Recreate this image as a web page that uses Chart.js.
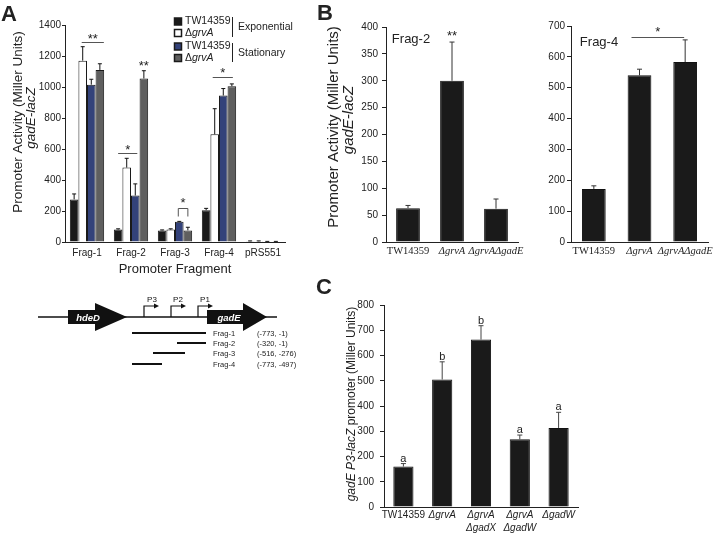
<!DOCTYPE html>
<html>
<head>
<meta charset="utf-8">
<script src="https://cdn.jsdelivr.net/npm/chart.js@4.4.1/dist/chart.umd.min.js"></script>
<style>
  body { margin: 0; background: #fff; width: 720px; height: 533px; position: relative; overflow: hidden; }
  canvas, svg { position: absolute; }
  svg { will-change: transform; }
</style>
</head>
<body>
<canvas id="chartA" width="300" height="282" style="left:0;top:0"></canvas>
<canvas id="chartB1" width="235" height="262" style="left:300px;top:0"></canvas>
<canvas id="chartB2" width="192" height="262" style="left:528px;top:0"></canvas>
<canvas id="chartC" width="300" height="263" style="left:300px;top:270px"></canvas>

<svg style="left:0;top:285px" width="300" height="95" viewBox="0 285 300 95" font-family="Liberation Sans, Arial, sans-serif" fill="#111">
  <line x1="38" y1="317" x2="277" y2="317" stroke="#111" stroke-width="1.5"/>
  <polygon points="68,310 95,310 95,303 127,317 95,331 95,324 68,324"/>
  <text x="88" y="317.5" fill="#fff" font-size="9.5" font-weight="bold" font-style="italic" text-anchor="middle" dominant-baseline="central">hdeD</text>
  <polygon points="207,310 243,310 243,303 267,317 243,331 243,324 207,324"/>
  <text x="229" y="317.5" fill="#fff" font-size="9.5" font-weight="bold" font-style="italic" text-anchor="middle" dominant-baseline="central">gadE</text>

  <path d="M144,317V306H154" stroke="#111" fill="none" stroke-width="1.2"/>
  <polygon points="154,303.5 159,306 154,308.5"/>
  <text x="152" y="299.5" font-size="8" text-anchor="middle" dominant-baseline="central">P3</text>
  <path d="M171,317V306H181" stroke="#111" fill="none" stroke-width="1.2"/>
  <polygon points="181,303.5 186,306 181,308.5"/>
  <text x="178" y="299.5" font-size="8" text-anchor="middle" dominant-baseline="central">P2</text>
  <path d="M198,317V306H208" stroke="#111" fill="none" stroke-width="1.2"/>
  <polygon points="208,303.5 213,306 208,308.5"/>
  <text x="205" y="299.5" font-size="8" text-anchor="middle" dominant-baseline="central">P1</text>

  <line x1="132" y1="333" x2="206" y2="333" stroke="#111" stroke-width="2"/>
  <line x1="177" y1="343" x2="206" y2="343" stroke="#111" stroke-width="2"/>
  <line x1="153" y1="353" x2="185" y2="353" stroke="#111" stroke-width="2"/>
  <line x1="132" y1="364" x2="162" y2="364" stroke="#111" stroke-width="2"/>
  <g font-size="7.5" dominant-baseline="central" fill="#222">
    <text x="213" y="333">Frag-1</text><text x="257" y="333">(-773, -1)</text>
    <text x="213" y="343">Frag-2</text><text x="257" y="343">(-320, -1)</text>
    <text x="213" y="353">Frag-3</text><text x="257" y="353">(-516, -276)</text>
    <text x="213" y="364">Frag-4</text><text x="257" y="364">(-773, -497)</text>
  </g>
</svg>

<script>
// ---- data ----
var fragLabels = ['Frag-1', 'Frag-2', 'Frag-3', 'Frag-4', 'pRS551'];
var strainNames = ['TW14359', 'ΔgrvA', 'TW14359', 'ΔgrvA'];
var phaseNames = ['Exponential', 'Stationary'];

var expWT = [275, 80, 75, 205, 5];
var expWTErr = [35, 5, 3, 12, 2];
var expGrvA = [1170, 480, 80, 695, 5];
var expGrvAErr = [90, 60, 5, 165, 2];
var statWT = [1015, 300, 130, 945, 3];
var statWTErr = [35, 75, 3, 45, 1];
var statGrvA = [1110, 1055, 75, 1005, 3];
var statGrvAErr = [40, 50, 20, 15, 1];

var bLabels = ['TW14359', 'ΔgrvA', 'ΔgrvAΔgadE'];
var frag2Vals = [63, 300, 62];
var frag2Err = [5, 72, 18];
var frag4Vals = [172, 540, 583];
var frag4Err = [10, 20, 72];

var cLabels = ['TW14359', 'ΔgrvA', ['ΔgrvA', 'ΔgadX'], ['ΔgrvA', 'ΔgadW'], 'ΔgadW'];
var p3Vals = [160, 505, 663, 268, 313];
var p3Err = [12, 70, 55, 17, 62];
var p3Groups = ['a', 'b', 'b', 'a', 'a'];

var SANS = "'Liberation Sans', Arial, sans-serif";
var SERIF = "'Liberation Serif', 'Times New Roman', serif";
Chart.defaults.font.family = SANS;
Chart.defaults.color = '#222';

// draw a piece of text made of normal / italic runs
function drawRuns(ctx, runs, x, y, o) {
  o = o || {};
  var size = o.size || 12, fam = o.family || SANS, weight = o.weight || 'normal';
  ctx.save();
  ctx.translate(x, y);
  if (o.rot) ctx.rotate(o.rot);
  var fonts = runs.map(function(r) { return (r.i ? 'italic ' : '') + weight + ' ' + size + 'px ' + fam; });
  var total = 0;
  var widths = runs.map(function(r, k) { ctx.font = fonts[k]; var w = ctx.measureText(r.t).width; total += w; return w; });
  var cx = o.align == 'left' ? 0 : -total / 2;
  ctx.textAlign = 'left';
  ctx.textBaseline = 'middle';
  ctx.fillStyle = '#222';
  runs.forEach(function(r, k) { ctx.font = fonts[k]; ctx.fillText(r.t, cx, 0); cx += widths[k]; });
  ctx.restore();
}

function strainRuns(name) {
  if (name.charAt(0) == 'Δ') return [{t: 'Δ'}, {t: name.slice(1), i: true}];
  return [{t: name}];
}

var errorBars = {
  id: 'errorBars',
  afterDatasetsDraw: function(chart, args, opts) {
    var ctx = chart.ctx, y = chart.scales.y;
    chart.data.datasets.forEach(function(ds, di) {
      if (!ds.errors) return;
      chart.getDatasetMeta(di).data.forEach(function(bar, i) {
        var top = y.getPixelForValue(ds.data[i] + ds.errors[i]);
        ctx.save();
        ctx.strokeStyle = opts.color || '#222';
        ctx.lineWidth = 1;
        ctx.beginPath();
        ctx.moveTo(bar.x, bar.y);
        ctx.lineTo(bar.x, top);
        ctx.moveTo(bar.x - opts.cap, top);
        ctx.lineTo(bar.x + opts.cap, top);
        ctx.stroke();
        ctx.restore();
      });
    });
  }
};

// significance lines, brackets, stars and letters
var marks = {
  id: 'marks',
  afterDatasetsDraw: function(chart, args, opts) {
    var ctx = chart.ctx, y = chart.scales.y;
    var bx = function(p) { return chart.getDatasetMeta(p[0]).data[p[1]].x + p[2]; };
    (opts.items || []).forEach(function(m) {
      ctx.save();
      ctx.strokeStyle = '#555';
      ctx.lineWidth = 1;
      var x1, x2, ly;
      if (m.from) {
        x1 = bx(m.from); x2 = bx(m.to);
        ly = Math.round(y.getPixelForValue(m.v)) + 0.5;
        ctx.beginPath();
        if (m.leg) {
          ctx.moveTo(x1, ly + m.leg); ctx.lineTo(x1, ly); ctx.lineTo(x2, ly); ctx.lineTo(x2, ly + m.leg);
        } else {
          ctx.moveTo(x1, ly); ctx.lineTo(x2, ly);
        }
        ctx.stroke();
      } else {
        x1 = x2 = bx(m.at);
      }
      var size = m.size || 13;
      ctx.font = size + 'px ' + SANS;
      ctx.fillStyle = '#222';
      ctx.textAlign = 'center';
      ctx.textBaseline = 'alphabetic';
      ctx.fillText(m.t, (x1 + x2) / 2, y.getPixelForValue(m.tv) + size * 0.57);
      ctx.restore();
    });
    (opts.letters || []).forEach(function(l, i) {
      var ds = chart.data.datasets[0];
      var bar = chart.getDatasetMeta(0).data[i];
      ctx.save();
      ctx.font = '11px ' + SANS;
      ctx.fillStyle = '#222';
      ctx.textAlign = 'center';
      ctx.textBaseline = 'alphabetic';
      ctx.fillText(l, bar.x, y.getPixelForValue(ds.data[i] + ds.errors[i]) - 2);
      ctx.restore();
    });
  }
};

var texts = {
  id: 'texts',
  afterDraw: function(chart, args, opts) {
    (opts.items || []).forEach(function(it) {
      drawRuns(chart.ctx, it.runs, it.x, it.y, it);
    });
  }
};

// legend of panel A with the phase brackets
var legendA = {
  id: 'legendA',
  afterDraw: function(chart) {
    var ctx = chart.ctx;
    var rows = [21.5, 33, 46.5, 58];
    chart.data.datasets.forEach(function(ds, i) {
      ctx.save();
      ctx.fillStyle = ds.backgroundColor;
      ctx.strokeStyle = '#1a1a1a';
      ctx.lineWidth = 1.5;
      ctx.fillRect(174.5, rows[i] - 3.5, 7, 7);
      ctx.strokeRect(174.5, rows[i] - 3.5, 7, 7);
      ctx.restore();
      drawRuns(ctx, strainRuns(ds.label), 185, rows[i], {size: 10.5, align: 'left'});
    });
    ctx.save();
    ctx.strokeStyle = '#222';
    ctx.lineWidth = 1;
    ctx.beginPath();
    ctx.moveTo(232.5, 17); ctx.lineTo(232.5, 37);
    ctx.moveTo(232.5, 43); ctx.lineTo(232.5, 62);
    ctx.stroke();
    ctx.restore();
    drawRuns(ctx, [{t: phaseNames[0]}], 238, 27, {size: 10.5, align: 'left'});
    drawRuns(ctx, [{t: phaseNames[1]}], 238, 53, {size: 10.5, align: 'left'});
  }
};

function yAxis(max, step, tickLen, pad, size, width) {
  return {
    min: 0, max: max,
    ticks: {stepSize: step, padding: pad, color: '#222', font: {size: size},
      callback: function(v) { return String(v); }},
    grid: {drawOnChartArea: false, drawTicks: true, tickLength: tickLen, color: '#222'},
    border: {display: true, color: '#222', width: 1},
    afterFit: function(s) { s.width = width; }
  };
}

function xAxis(height, pad, font) {
  return {
    ticks: {padding: pad, color: '#222', font: font, maxRotation: 0, autoSkip: false},
    grid: {display: false, drawTicks: false},
    border: {display: true, color: '#222', width: 1},
    afterFit: function(s) { s.height = height; }
  };
}

var common = {
  responsive: false,
  animation: false,
  devicePixelRatio: 1
};

// ---- panel A ----
var xA = xAxis(40, 5, {size: 10});
xA.title = {display: true, text: 'Promoter Fragment', color: '#222', font: {size: 13}, padding: {top: 0, bottom: 5}};

new Chart(document.getElementById('chartA'), {
  type: 'bar',
  data: {
    labels: fragLabels,
    datasets: [
      {label: strainNames[0], data: expWT, errors: expWTErr, backgroundColor: '#1a1a1a'},
      {label: strainNames[1], data: expGrvA, errors: expGrvAErr, backgroundColor: '#ffffff'},
      {label: strainNames[2], data: statWT, errors: statWTErr, backgroundColor: '#33427a'},
      {label: strainNames[3], data: statGrvA, errors: statGrvAErr, backgroundColor: '#5f5f5f'}
    ]
  },
  options: Object.assign({}, common, {
    layout: {padding: {left: 25, top: 25, right: 15, bottom: 0}},
    datasets: {bar: {categoryPercentage: 0.78, barPercentage: 1, borderWidth: 1, borderColor: '#1a1a1a'}},
    scales: {x: xA, y: yAxis(1400, 200, 3, 1, 10, 40)},
    plugins: {
      legend: {display: false},
      tooltip: {enabled: false},
      errorBars: {cap: 2, color: '#111'},
      marks: {items: [
        {from: [1, 0, -1], to: [3, 0, 4], v: 1290, t: '**', tv: 1330},
        {from: [0, 1, 0], to: [2, 1, 2], v: 574, t: '*', tv: 613},
        {at: [3, 1, 0], t: '**', tv: 1155},
        {from: [2, 2, -1], to: [3, 2, 0], v: 219, leg: 8, t: '*', tv: 271},
        {from: [1, 3, -2], to: [3, 3, 1], v: 1065, t: '*', tv: 1110}
      ]},
      texts: {items: [
        {runs: [{t: 'A'}], x: 9, y: 15, size: 22, weight: 'bold'},
        {runs: [{t: 'Promoter Activity (Miller Units)'}], x: 18, y: 122, rot: -Math.PI / 2, size: 13.5},
        {runs: [{t: 'gadE-lacZ', i: true}], x: 31, y: 118, rot: -Math.PI / 2, size: 13.5}
      ]}
    }
  }),
  plugins: [errorBars, marks, texts, legendA]
});

// ---- panel B ----
var serifTicks = function(ctx) {
  return {family: SERIF, size: 10.5, style: ctx.index == 0 ? 'normal' : 'italic'};
};

var xB1 = xAxis(20, 3, serifTicks);
new Chart(document.getElementById('chartB1'), {
  type: 'bar',
  data: {
    labels: bLabels,
    datasets: [{label: 'Frag-2', data: frag2Vals, errors: frag2Err, backgroundColor: '#1a1a1a'}]
  },
  options: Object.assign({}, common, {
    layout: {padding: {left: 40, top: 27, right: 17, bottom: 0}},
    datasets: {bar: {categoryPercentage: 1, barPercentage: 0.54, borderWidth: 1, borderColor: '#111'}},
    scales: {x: xB1, y: yAxis(400, 50, 4, 4, 10, 46)},
    plugins: {
      legend: {display: false},
      tooltip: {enabled: false},
      errorBars: {cap: 2.5, color: '#333'},
      marks: {items: [{at: [0, 1, 0], t: '**', tv: 389}]},
      texts: {items: [
        {runs: [{t: 'B'}], x: 25, y: 14, size: 22, weight: 'bold'},
        {runs: [{t: 'Promoter Activity (Miller Units)'}], x: 34, y: 127, rot: -Math.PI / 2, size: 15},
        {runs: [{t: 'gadE-lacZ', i: true}], x: 49, y: 120, rot: -Math.PI / 2, size: 15},
        {runs: [{t: 'Frag-2'}], x: 111, y: 39, size: 13}
      ]}
    }
  }),
  plugins: [errorBars, marks, texts]
});

var xB2 = xAxis(20, 3, serifTicks);
new Chart(document.getElementById('chartB2'), {
  type: 'bar',
  data: {
    labels: bLabels,
    datasets: [{label: 'Frag-4', data: frag4Vals, errors: frag4Err, backgroundColor: '#1a1a1a'}]
  },
  options: Object.assign({}, common, {
    layout: {padding: {left: 3, top: 26, right: 12, bottom: 0}},
    datasets: {bar: {categoryPercentage: 1, barPercentage: 0.52, borderWidth: 1, borderColor: '#111'}},
    scales: {x: xB2, y: yAxis(700, 100, 4, 2, 10, 40)},
    plugins: {
      legend: {display: false},
      tooltip: {enabled: false},
      errorBars: {cap: 2.5, color: '#333'},
      marks: {items: [{from: [0, 1, -8], to: [0, 2, -1], v: 664, t: '*', tv: 690}]},
      texts: {items: [
        {runs: [{t: 'Frag-4'}], x: 71, y: 42, size: 13}
      ]}
    }
  }),
  plugins: [errorBars, marks, texts]
});

// ---- panel C ----
var xC = xAxis(26, 2, function(ctx) {
  return {size: 10, lineHeight: 1.25, style: ctx.index == 0 ? 'normal' : 'italic'};
});
new Chart(document.getElementById('chartC'), {
  type: 'bar',
  data: {
    labels: cLabels,
    datasets: [{label: 'P3', data: p3Vals, errors: p3Err, backgroundColor: '#1a1a1a'}]
  },
  options: Object.assign({}, common, {
    layout: {padding: {left: 40, top: 35, right: 22, bottom: 0}},
    datasets: {bar: {categoryPercentage: 1, barPercentage: 0.52, borderWidth: 1, borderColor: '#111'}},
    scales: {x: xC, y: yAxis(800, 100, 4, 6, 10, 44)},
    plugins: {
      legend: {display: false},
      tooltip: {enabled: false},
      errorBars: {cap: 2.5, color: '#444'},
      marks: {letters: p3Groups},
      texts: {items: [
        {runs: [{t: 'C'}], x: 24, y: 18, size: 22, weight: 'bold'},
        {runs: [{t: 'gadE P3-lacZ', i: true}, {t: ' promoter (Miller Units)'}], x: 52, y: 134, rot: -Math.PI / 2, size: 12}
      ]}
    }
  }),
  plugins: [errorBars, marks, texts]
});
</script>
</body>
</html>
